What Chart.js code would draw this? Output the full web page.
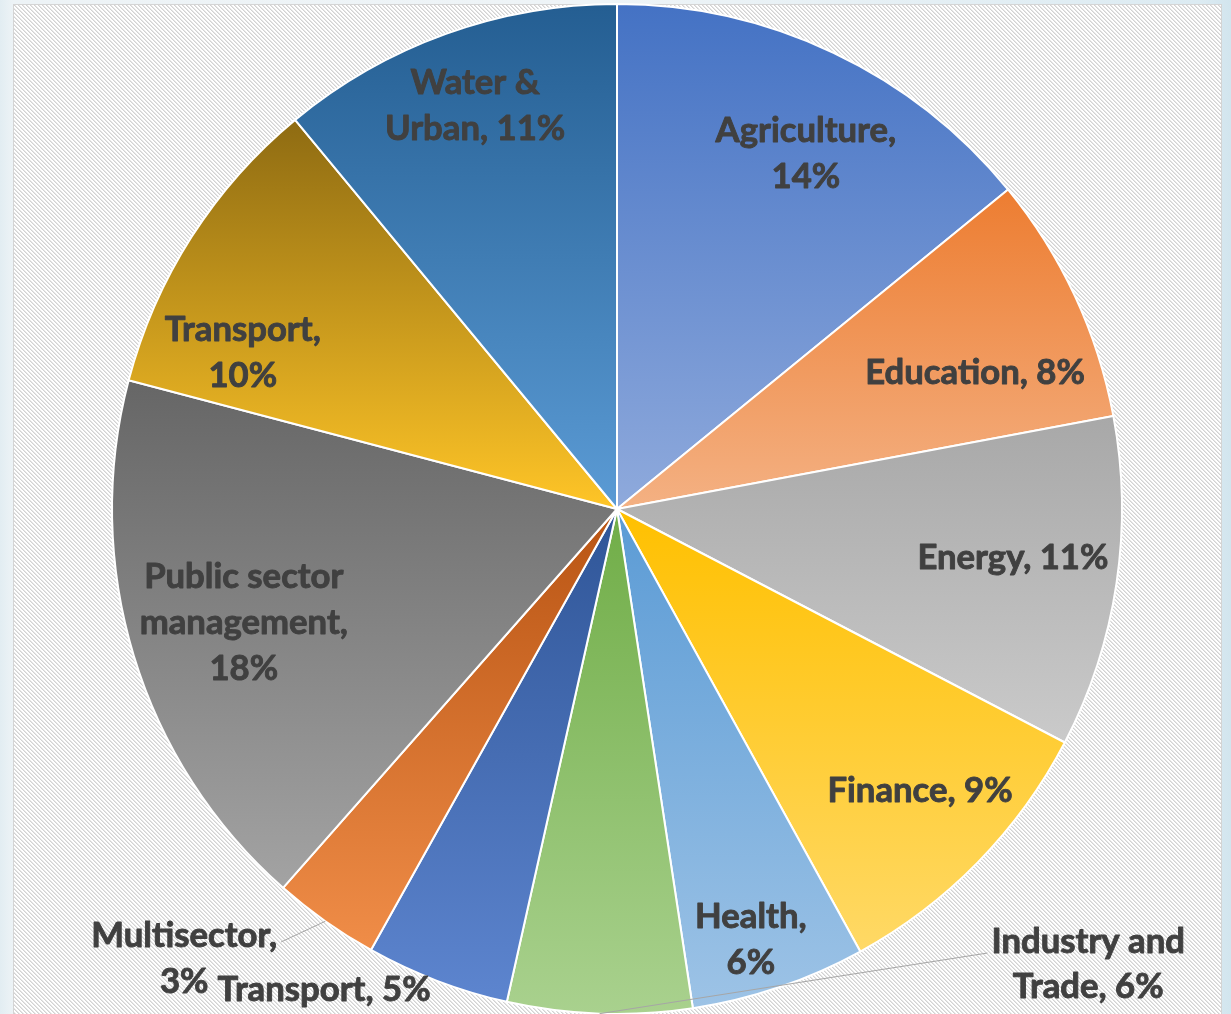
<!DOCTYPE html>
<html>
<head>
<meta charset="utf-8">
<script src="https://cdn.jsdelivr.net/npm/chart.js@4/dist/chart.umd.min.js"></script>
<style>
html, body { margin: 0; padding: 0; width: 1231px; height: 1014px; overflow: hidden; }
body { background: linear-gradient(90deg, #e2edf2 0px, #edf3f6 13px, #eef4f7 600px, #dcebf2 1200px, #d2e5ee 1231px); position: relative; }
#frame {
  position: absolute; left: 13px; top: 4px; width: 1207px; height: 1030px;
  border: 1px solid #d4d4d4; background-color: #eeeeee;
}
#chart { position: absolute; left: 0; top: 0; }
</style>
</head>
<body>
<div id="frame"></div>
<canvas id="chart" width="1231" height="1016"></canvas>
<script>
// ---- data ----
const categories = ["Agriculture", "Education", "Energy", "Finance", "Health", "Industry and Trade",
                    "Transport", "Multisector", "Public sector management", "Transport", "Water & Urban"];
const shares = [14.1, 7.95, 10.6, 9.35, 5.6, 5.9, 4.6, 3.4, 17.6, 9.9, 11.0];

// ---- styles ----
const topColors    = ["#4472C4", "#ED7D31", "#A8A8A8", "#FFC000", "#5B9BD5", "#70AD47", "#2F5597", "#B85413", "#666666", "#8E6B12", "#245E92"];
const bottomColors = ["#8FAADC", "#F4B183", "#CACACA", "#FFD966", "#9DC3E6", "#A9D18E", "#5D85CF", "#F08D48", "#A3A3A3", "#FFC527", "#5B9BD5"];
// label words per line
const lineSplits = [[1,1],[2],[2],[2],[1,1],[2,2],[2],[1,1],[2,1,1],[1,1],[2,2]];
// label anchor relative to pie centre, in units of radius
const labelFx = [0.374, 0.709, 0.784, 0.600, 0.265, 0.933, -0.580, -0.857, -0.739, -0.741, -0.281];
const labelFy = [-0.706, -0.273, 0.095, 0.556, 0.850, 0.899, 0.949, 0.889, 0.222, -0.311, -0.801];
const leaderLines = { 5: "left", 7: "right" };

// hatch background tile
(function () {
  const t = document.createElement("canvas");
  t.width = 4; t.height = 4;
  const c = t.getContext("2d");
  c.fillStyle = "#ffffff"; c.fillRect(0, 0, 4, 4);
  for (let y = 0; y < 4; y++) for (let x = 0; x < 4; x++) {
    const d = ((x - y) % 4 + 4) % 4;
    if (d === 0) { c.fillStyle = "#d2d2d2"; c.fillRect(x, y, 1, 1); }
    else if (d === 1) { c.fillStyle = "#e6e6e6"; c.fillRect(x, y, 1, 1); }
  }
  document.getElementById("frame").style.backgroundImage = "url(" + t.toDataURL() + ")";
})();

const total = shares.reduce((a, b) => a + b, 0);

function sliceGradient(ctx) {
  const chart = ctx.chart;
  const area = chart.chartArea;
  const i = ctx.dataIndex;
  if (!area || i === undefined) return topColors[i] || "#999";
  const cx = (area.left + area.right) / 2, cy = (area.top + area.bottom) / 2;
  const r = (Math.min(area.right - area.left, area.bottom - area.top) - 2) / 2;
  let cum = 0;
  for (let j = 0; j < i; j++) cum += shares[j];
  const a0 = -Math.PI / 2 + 2 * Math.PI * cum / total;
  const a1 = a0 + 2 * Math.PI * shares[i] / total;
  let ymin = cy, ymax = cy;
  for (let k = 0; k <= 96; k++) {
    const a = a0 + (a1 - a0) * k / 96;
    const y = cy + r * Math.sin(a);
    ymin = Math.min(ymin, y); ymax = Math.max(ymax, y);
  }
  const g = chart.ctx.createLinearGradient(0, ymin, 0, ymax);
  g.addColorStop(0, topColors[i]);
  g.addColorStop(1, bottomColors[i]);
  return g;
}

function labelLines(i) {
  const pct = Math.round(shares[i] / total * 100) + "%";
  const words = (categories[i] + ", " + pct).split(" ");
  const out = [];
  let p = 0;
  for (const n of lineSplits[i]) { out.push(words.slice(p, p + n).join(" ")); p += n; }
  return out;
}

const labelPlugin = {
  id: "sliceLabels",
  afterDatasetsDraw(chart) {
    const ctx = chart.ctx;
    const arcs = chart.getDatasetMeta(0).data;
    const cx = arcs[0].x, cy = arcs[0].y, r = arcs[0].outerRadius;
    ctx.save();
    const fam = "bold {s}px Lato";
    let fs = 30;
    ctx.font = fam.replace("{s}", fs);
    const w = ctx.measureText("Agriculture,").width;
    fs = Math.max(26, Math.min(36, fs * (0.358 * r) / w));
    ctx.font = fam.replace("{s}", fs.toFixed(1));
    const capH = ctx.measureText("H").actualBoundingBoxAscent;
    const lh = 0.091 * r;
    ctx.fillStyle = "#404040";
    ctx.strokeStyle = "#404040";
    ctx.lineWidth = 0.9;
    ctx.lineJoin = "round";
    ctx.textAlign = "center";
    ctx.textBaseline = "alphabetic";
    arcs.forEach((arc, i) => {
      const lines = labelLines(i);
      const x = cx + labelFx[i] * r;
      const yc = cy + labelFy[i] * r;
      const y0 = yc - (lines.length - 1) * lh / 2;
      lines.forEach((t, k) => {
        const ty = y0 + k * lh + capH / 2;
        ctx.fillText(t, x, ty);
        ctx.strokeText(t, x, ty);
      });
      if (leaderLines[i]) {
        const mid = (arc.startAngle + arc.endAngle) / 2;
        const sx = cx + Math.cos(mid) * arc.outerRadius;
        const sy = cy + Math.sin(mid) * arc.outerRadius;
        const lw = ctx.measureText(lines[0]).width;
        let ex, ey;
        if (leaderLines[i] === "left") { ex = x - lw / 2 - 4; ey = y0 + 13; }
        else { ex = x + lw / 2 + 4; ey = y0 + 7; }
        ctx.save();
        ctx.strokeStyle = "#a6a6a6";
        ctx.lineWidth = 1;
        ctx.beginPath();
        ctx.moveTo(sx, sy);
        ctx.lineTo(ex, ey);
        ctx.stroke();
        ctx.restore();
      }
    });
    ctx.restore();
  }
};

new Chart(document.getElementById("chart"), {
  type: "pie",
  data: {
    labels: categories,
    datasets: [{
      data: shares,
      backgroundColor: sliceGradient,
      borderColor: "#ffffff",
      borderWidth: 2
    }]
  },
  options: {
    responsive: false,
    animation: false,
    devicePixelRatio: 1,
    layout: { padding: { left: 111, right: 108, top: 3, bottom: 1 } },
    plugins: { legend: { display: false }, tooltip: { enabled: false } }
  },
  plugins: [labelPlugin]
});
</script>
</body>
</html>
